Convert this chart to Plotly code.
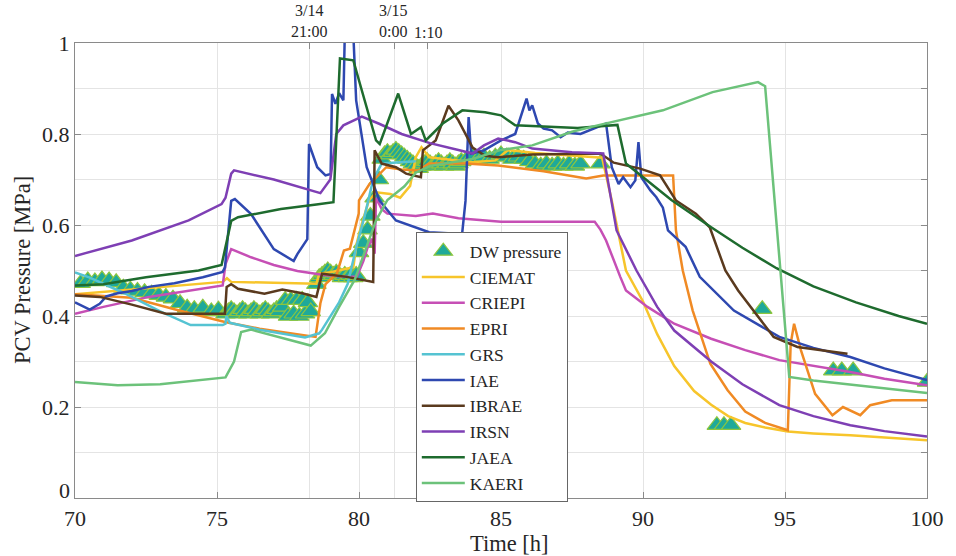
import plotly.graph_objects as go

# ---------------- data (hours, MPa) ----------------
dw_t = [70.2, 70.45, 70.7, 70.95, 71.2, 71.45, 71.7, 71.95, 72.2, 72.45, 72.7, 72.95, 73.2, 73.45,
        73.7, 73.95, 74.2, 74.5, 74.8, 75.05,
        75.3, 75.4, 75.5, 75.6, 75.7, 75.8, 75.9, 76.0, 76.1, 76.2, 76.3, 76.4, 76.5, 76.6, 76.7,
        76.8, 76.9, 77.0, 77.1, 77.2, 77.3, 77.4, 77.5, 77.6, 77.7, 77.8, 77.9, 78.0, 78.1, 78.2, 78.3,
        78.5, 78.6, 78.7, 78.8, 78.9, 79.0, 79.1, 79.2, 79.3, 79.4, 79.5, 79.6, 79.7, 79.8, 79.9,
        80.0, 80.15, 80.3, 80.4, 80.55, 80.7,
        80.8, 80.9, 81.0, 81.1, 81.2, 81.3, 81.4, 81.5, 81.6, 81.7, 81.8, 81.9, 82.0, 82.1, 82.2,
        82.3, 82.4, 82.5, 82.6, 82.7, 82.8, 82.9, 83.0, 83.1, 83.2, 83.3, 83.4, 83.5, 83.6,
        83.8, 84.0, 84.2, 84.4, 84.6, 84.8, 85.0, 85.2, 85.4, 85.6, 85.8, 86.0, 86.2, 86.4, 86.6,
        86.8, 87.0, 87.2, 87.4, 87.6, 87.8, 88.5,
        92.6, 92.85, 93.1, 94.2, 96.7, 97.0, 97.4, 100.0]
dw_p = [0.472, 0.478, 0.476, 0.480, 0.478, 0.474, 0.462, 0.458, 0.455, 0.452, 0.449, 0.446, 0.442, 0.438,
        0.428, 0.418, 0.415, 0.418, 0.410, 0.414,
        0.405, 0.410, 0.415, 0.410, 0.405, 0.410, 0.415, 0.410, 0.405, 0.410, 0.415, 0.410, 0.405, 0.410, 0.415,
        0.410, 0.405, 0.410, 0.415, 0.410, 0.420, 0.435, 0.400, 0.435, 0.405, 0.435, 0.400, 0.435, 0.405, 0.430, 0.410,
        0.470, 0.485, 0.490, 0.495, 0.500, 0.495, 0.490, 0.495, 0.490, 0.485, 0.490, 0.485, 0.490, 0.485, 0.490,
        0.540, 0.560, 0.590, 0.620, 0.660, 0.700,
        0.745, 0.755, 0.760, 0.755, 0.760, 0.765, 0.760, 0.755, 0.750, 0.745, 0.740, 0.735, 0.730, 0.725, 0.730,
        0.735, 0.740, 0.735, 0.730, 0.735, 0.740, 0.735, 0.730, 0.735, 0.740, 0.735, 0.730, 0.735, 0.740,
        0.745, 0.750, 0.745, 0.750, 0.745, 0.750, 0.755, 0.750, 0.745, 0.750, 0.745, 0.740, 0.735, 0.730, 0.735,
        0.730, 0.735, 0.730, 0.735, 0.730, 0.735, 0.735,
        0.160, 0.160, 0.160, 0.415, 0.280, 0.280, 0.280, 0.255]

ciemat_t = [70, 72, 75.2, 75.35, 75.5, 77, 78.5, 78.6, 79.0, 79.8, 79.92, 80.1, 80.35, 80.6, 81.1, 81.45,
            81.8, 82.0, 82.2, 82.47, 83.0, 84.0, 84.8, 85.25, 86.2, 87.5, 88.56, 88.9, 89.4, 90.0, 90.5,
            91.1, 91.8, 92.4, 93.0, 93.6, 94.3, 95.1, 96.0, 97.3, 98.5, 100]
ciemat_p = [0.448, 0.458, 0.475, 0.483, 0.475, 0.473, 0.471, 0.493, 0.496, 0.507, 0.560, 0.603, 0.654, 0.672,
            0.668, 0.660, 0.686, 0.749, 0.771, 0.749, 0.745, 0.738, 0.742, 0.765, 0.758, 0.753, 0.748, 0.654,
            0.500, 0.432, 0.360, 0.290, 0.235, 0.205, 0.180, 0.165, 0.155, 0.146, 0.142, 0.138, 0.133, 0.127]

criepi_t = [70, 71, 72.6, 74, 75.2, 75.3, 75.5, 76.2, 77, 77.83, 78.76, 79.57, 79.92, 80.15, 80.3, 80.45,
            80.55, 80.6, 80.8, 81.0, 82.0, 82.6, 83.5, 85, 86.5, 88.3, 88.5, 88.7, 89.2, 89.4, 90.16, 91.1,
            92.4, 93.6, 94.8, 96, 97.3, 98.5, 100]
criepi_p = [0.405, 0.420, 0.442, 0.455, 0.467, 0.514, 0.547, 0.529, 0.512, 0.499, 0.490, 0.486, 0.486, 0.520,
            0.550, 0.570, 0.537, 0.660, 0.635, 0.625, 0.620, 0.625, 0.615, 0.607, 0.607, 0.607, 0.590, 0.566,
            0.486, 0.456, 0.420, 0.383, 0.350, 0.325, 0.303, 0.290, 0.277, 0.262, 0.248]

epri_t = [70, 72, 73.5, 75, 75.28, 76.5, 78.1, 78.47, 78.53, 78.64, 78.82, 79.22, 79.47, 79.68, 79.99, 80.0,
          80.37, 80.6, 80.96, 81.5, 82.1, 82.46, 83.75, 84.9, 86.5, 88.0, 88.6, 90.0, 91.06, 91.16, 91.4,
          91.75, 92.37, 92.98, 93.6, 94.3, 95.1, 95.2, 95.32, 95.56, 96.06, 96.67, 97.04, 97.65, 98.0, 98.76, 100]
epri_p = [0.448, 0.440, 0.415, 0.390, 0.387, 0.372, 0.357, 0.354, 0.380, 0.428, 0.470, 0.493, 0.544, 0.548,
          0.625, 0.654, 0.690, 0.705, 0.727, 0.722, 0.720, 0.735, 0.735, 0.731, 0.718, 0.702, 0.709, 0.709,
          0.709, 0.588, 0.500, 0.412, 0.295, 0.237, 0.190, 0.165, 0.149, 0.339, 0.383, 0.325, 0.229, 0.182,
          0.200, 0.182, 0.204, 0.215, 0.215]

grs_t = [70, 70.5, 71.74, 73, 74.07, 75.2, 75.3, 75.33, 75.45, 76.5, 78.1, 78.6, 78.7, 79.0, 79.3, 79.6,
         79.9, 80.2, 80.5, 80.8, 82.0]
grs_p = [0.496, 0.485, 0.450, 0.410, 0.380, 0.380, 0.383, 0.400, 0.385, 0.370, 0.353, 0.362, 0.370, 0.400,
         0.430, 0.470, 0.550, 0.620, 0.700, 0.735, 0.740]

iae_t = [70, 70.52, 70.87, 71.1, 71.5, 72.0, 72.6, 73.5, 74.5, 75.2, 75.28, 75.5, 75.63, 76.2, 77.0, 77.7,
         77.83, 78.18, 78.24, 78.53, 78.82, 79.0, 79.05, 79.17, 79.3, 79.45, 79.51, 79.78, 79.9, 80.27, 80.73,
         81.3, 82.47, 83.63, 83.75, 83.86, 83.95, 84.4, 85.0, 85.5, 85.9, 86.0, 86.1, 86.3, 86.5, 86.8,
         87.1, 87.35, 87.8, 88.7, 88.9, 89.14, 89.3, 89.56, 89.73, 89.84, 89.94, 90.26, 90.47, 90.7, 90.88,
         91.5, 92.0, 93.2, 94.8, 96, 97.3, 98.5, 100]
iae_p = [0.430, 0.414, 0.427, 0.443, 0.450, 0.455, 0.464, 0.472, 0.485, 0.497, 0.507, 0.653, 0.657, 0.624,
         0.547, 0.521, 0.536, 0.569, 0.778, 0.727, 0.709, 0.712, 0.888, 0.866, 0.890, 0.874, 1.050, 1.050,
         0.874, 0.727, 0.653, 0.610, 0.584, 0.580, 0.653, 0.837, 0.757, 0.764, 0.786, 0.800, 0.878, 0.852,
         0.863, 0.823, 0.812, 0.808, 0.793, 0.803, 0.800, 0.823, 0.727, 0.690, 0.705, 0.683, 0.698, 0.782,
         0.705, 0.676, 0.661, 0.638, 0.588, 0.552, 0.486, 0.412, 0.354, 0.330, 0.310, 0.285, 0.259]

ibrae_t = [70, 70.87, 72, 73.2, 75.28, 75.34, 75.5, 75.74, 76.67, 77.3, 78.0, 78.5, 78.7, 79.57, 80.5, 80.55,
           80.8, 81.3, 81.66, 82.18, 82.25, 82.7, 83.15, 83.5, 84.0, 84.44, 84.9, 86.1, 88.5, 88.97, 89.9,
           90.6, 91.16, 91.86, 92.35, 92.9, 93.35, 94.6, 95.44, 96.5, 97.2]
ibrae_p = [0.445, 0.442, 0.425, 0.405, 0.405, 0.464, 0.470, 0.460, 0.449, 0.458, 0.450, 0.442, 0.493, 0.486,
           0.475, 0.764, 0.735, 0.727, 0.713, 0.705, 0.764, 0.786, 0.862, 0.830, 0.770, 0.752, 0.749, 0.755,
           0.757, 0.737, 0.724, 0.709, 0.654, 0.625, 0.595, 0.500, 0.456, 0.354, 0.332, 0.322, 0.317]

irsn_t = [70, 72, 74, 75.16, 75.3, 75.5, 75.6, 77, 78.64, 78.99, 79.2, 79.45, 80.1, 80.73, 81.5, 82.5,
          83.5, 84.0, 84.4, 84.9, 85.5, 86.1, 87.5, 88.6, 88.7, 89.07, 89.77, 90.5, 91.1, 92.4, 93.5, 94.8,
          96, 97.3, 98.5, 100]
irsn_p = [0.532, 0.566, 0.610, 0.646, 0.660, 0.713, 0.720, 0.700, 0.670, 0.700, 0.800, 0.819, 0.838, 0.822,
          0.800, 0.780, 0.765, 0.757, 0.775, 0.790, 0.782, 0.768, 0.760, 0.757, 0.720, 0.588, 0.500, 0.420,
          0.368, 0.300, 0.250, 0.204, 0.180, 0.160, 0.147, 0.135]

jaea_t = [70, 71, 72.5, 74.35, 75.16, 75.5, 75.74, 77.25, 78.5, 79.1, 79.33, 79.8, 80.03, 80.27, 80.6, 80.73,
          81.38, 81.83, 82.18, 82.35, 82.95, 83.64, 84.44, 85.0, 85.5, 87.7, 88.6, 89.1, 89.4, 89.9, 91,
          92.4, 93.5, 94.7, 96, 97.5, 99, 100]
jaea_p = [0.467, 0.470, 0.485, 0.500, 0.512, 0.609, 0.617, 0.635, 0.645, 0.650, 0.966, 0.962, 0.911, 0.859,
          0.786, 0.778, 0.889, 0.800, 0.815, 0.786, 0.823, 0.852, 0.848, 0.841, 0.819, 0.813, 0.818, 0.820,
          0.735, 0.710, 0.655, 0.595, 0.550, 0.505, 0.465, 0.430, 0.400, 0.383]

kaeri_t = [70, 71.5, 73, 75.3, 75.6, 75.85, 76.2, 78.3, 78.8, 79.3, 79.85, 80.3, 80.6, 81.0, 81.6, 82.0,
           82.5, 84.0, 85.0, 86.1, 87.5, 88.4, 90.7, 92.45, 94.05, 94.3, 95.15, 96.0, 98.0, 100]
kaeri_p = [0.255, 0.248, 0.250, 0.265, 0.300, 0.365, 0.370, 0.335, 0.362, 0.420, 0.480, 0.560, 0.610, 0.655,
           0.685, 0.715, 0.730, 0.745, 0.765, 0.775, 0.805, 0.819, 0.852, 0.892, 0.914, 0.905, 0.266, 0.258,
           0.245, 0.231]

y_tick_vals = [0, 0.2, 0.4, 0.6, 0.8, 1.0]
y_tick_text = ["", "0.2", "0.4", "0.6", "0.8", "1"]   # "0" is placed separately (raised, as in the source)
top_tick_vals = [78.25, 81.25, 82.42]
y_minor_vals = [0.1, 0.2, 0.3, 0.4, 0.5, 0.6, 0.7, 0.8, 0.9]

series = [
    ("CIEMAT", ciemat_t, ciemat_p, "#F7C52B"),
    ("CRIEPI", criepi_t, criepi_p, "#C64FB5"),
    ("EPRI", epri_t, epri_p, "#F08A24"),
    ("GRS", grs_t, grs_p, "#55C3D2"),
    ("IAE", iae_t, iae_p, "#2E48B0"),
    ("IBRAE", ibrae_t, ibrae_p, "#5A3A1E"),
    ("IRSN", irsn_t, irsn_p, "#7E3FB4"),
    ("JAEA", jaea_t, jaea_p, "#1E6B2E"),
    ("KAERI", kaeri_t, kaeri_p, "#6CC27A"),
]

FONT = "Liberation Serif"
TXT = "#262626"
GRID = "#e4e4e4"
AX = "#8a8a8a"

fig = go.Figure()
fig.add_trace(go.Scatter(
    x=dw_t, y=dw_p, mode="markers", name="DW pressure",
    marker=dict(symbol="triangle-up", size=17, color="#1FA99A",
                line=dict(color="#8CC63E", width=1.2))))
for name, t, p, c in series:
    fig.add_trace(go.Scatter(x=t, y=p, mode="lines", name=name,
                             line=dict(color=c, width=2.5)))
# helper trace so the secondary (top / right) tick axes are drawn
fig.add_trace(go.Scatter(x=[None], y=[None], xaxis="x2", yaxis="y2",
                         showlegend=False, hoverinfo="skip"))

fig.update_layout(
    width=956, height=556,
    margin=dict(l=75, r=19, t=43, b=58),
    paper_bgcolor="white", plot_bgcolor="white",
    font=dict(family=FONT, color=TXT, size=22),
    showlegend=True,
    legend=dict(x=0.4, y=0.584, xanchor="left", yanchor="top",
                bgcolor="white", bordercolor="#666", borderwidth=1,
                itemwidth=43,
                font=dict(family=FONT, size=17.5, color=TXT)),
    xaxis=dict(range=[70, 100], dtick=5, showgrid=True, gridcolor=GRID,
               ticks="inside", ticklen=6, tickcolor=AX, showline=True, linecolor=AX,
               linewidth=1, mirror=True, zeroline=False, ticklabelstandoff=1,
               tickfont=dict(family=FONT, size=22, color=TXT)),
    yaxis=dict(range=[0, 1], tickmode="array", tickvals=y_tick_vals, ticktext=y_tick_text,
               showgrid=True, gridcolor=GRID,
               ticks="inside", ticklen=6, tickcolor=AX, showline=True, linecolor=AX,
               linewidth=1, mirror=True, zeroline=False,
               tickfont=dict(family=FONT, size=22, color=TXT)),
    xaxis2=dict(range=[70, 100], overlaying="x", side="top", tickmode="array",
                tickvals=top_tick_vals, showticklabels=False, ticks="inside", ticklen=6,
                tickcolor=AX, showgrid=True, gridcolor=GRID, showline=False, zeroline=False),
    yaxis2=dict(range=[0, 1], overlaying="y", side="right", tickmode="array",
                tickvals=y_minor_vals, showticklabels=False, ticks="inside", ticklen=6,
                tickcolor=AX, showgrid=True, gridcolor=GRID, showline=False, zeroline=False),
)

# raised "0" label of the y axis
fig.add_annotation(x=0, y=0, xref="paper", yref="paper", text="0", showarrow=False,
                   xanchor="right", yanchor="middle", xshift=-3, yshift=8,
                   font=dict(family=FONT, size=22, color=TXT))

ann_font = dict(family=FONT, size=16, color=TXT)
top_labels = [
    (78.25, "3/14<br>21:00", 0),
    (81.25, "3/15<br>0:00", -2),
]
for xv, txt, xs in top_labels:
    fig.add_annotation(x=xv, y=1.048, xref="x", yref="paper", text=txt, showarrow=False,
                       font=ann_font, xshift=xs, xanchor="center", yanchor="middle")
fig.add_annotation(x=82.42, y=1.0235, xref="x", yref="paper", text="1:10", showarrow=False,
                   font=ann_font, xanchor="center", yanchor="middle")
fig.add_annotation(x=-0.0615, y=0.5, xref="paper", yref="paper", text="PCV Pressure [MPa]",
                   textangle=-90, showarrow=False, xanchor="center", yanchor="middle",
                   font=dict(family=FONT, size=22.5, color=TXT))
fig.add_annotation(x=0.51, y=-0.101, xref="paper", yref="paper", text="Time [h]",
                   showarrow=False, xanchor="center", yanchor="middle",
                   font=dict(family=FONT, size=22.5, color=TXT))

fig.write_html("out.html", config={"displayModeBar": False},
               post_script="document.body.style.margin='0px';")
